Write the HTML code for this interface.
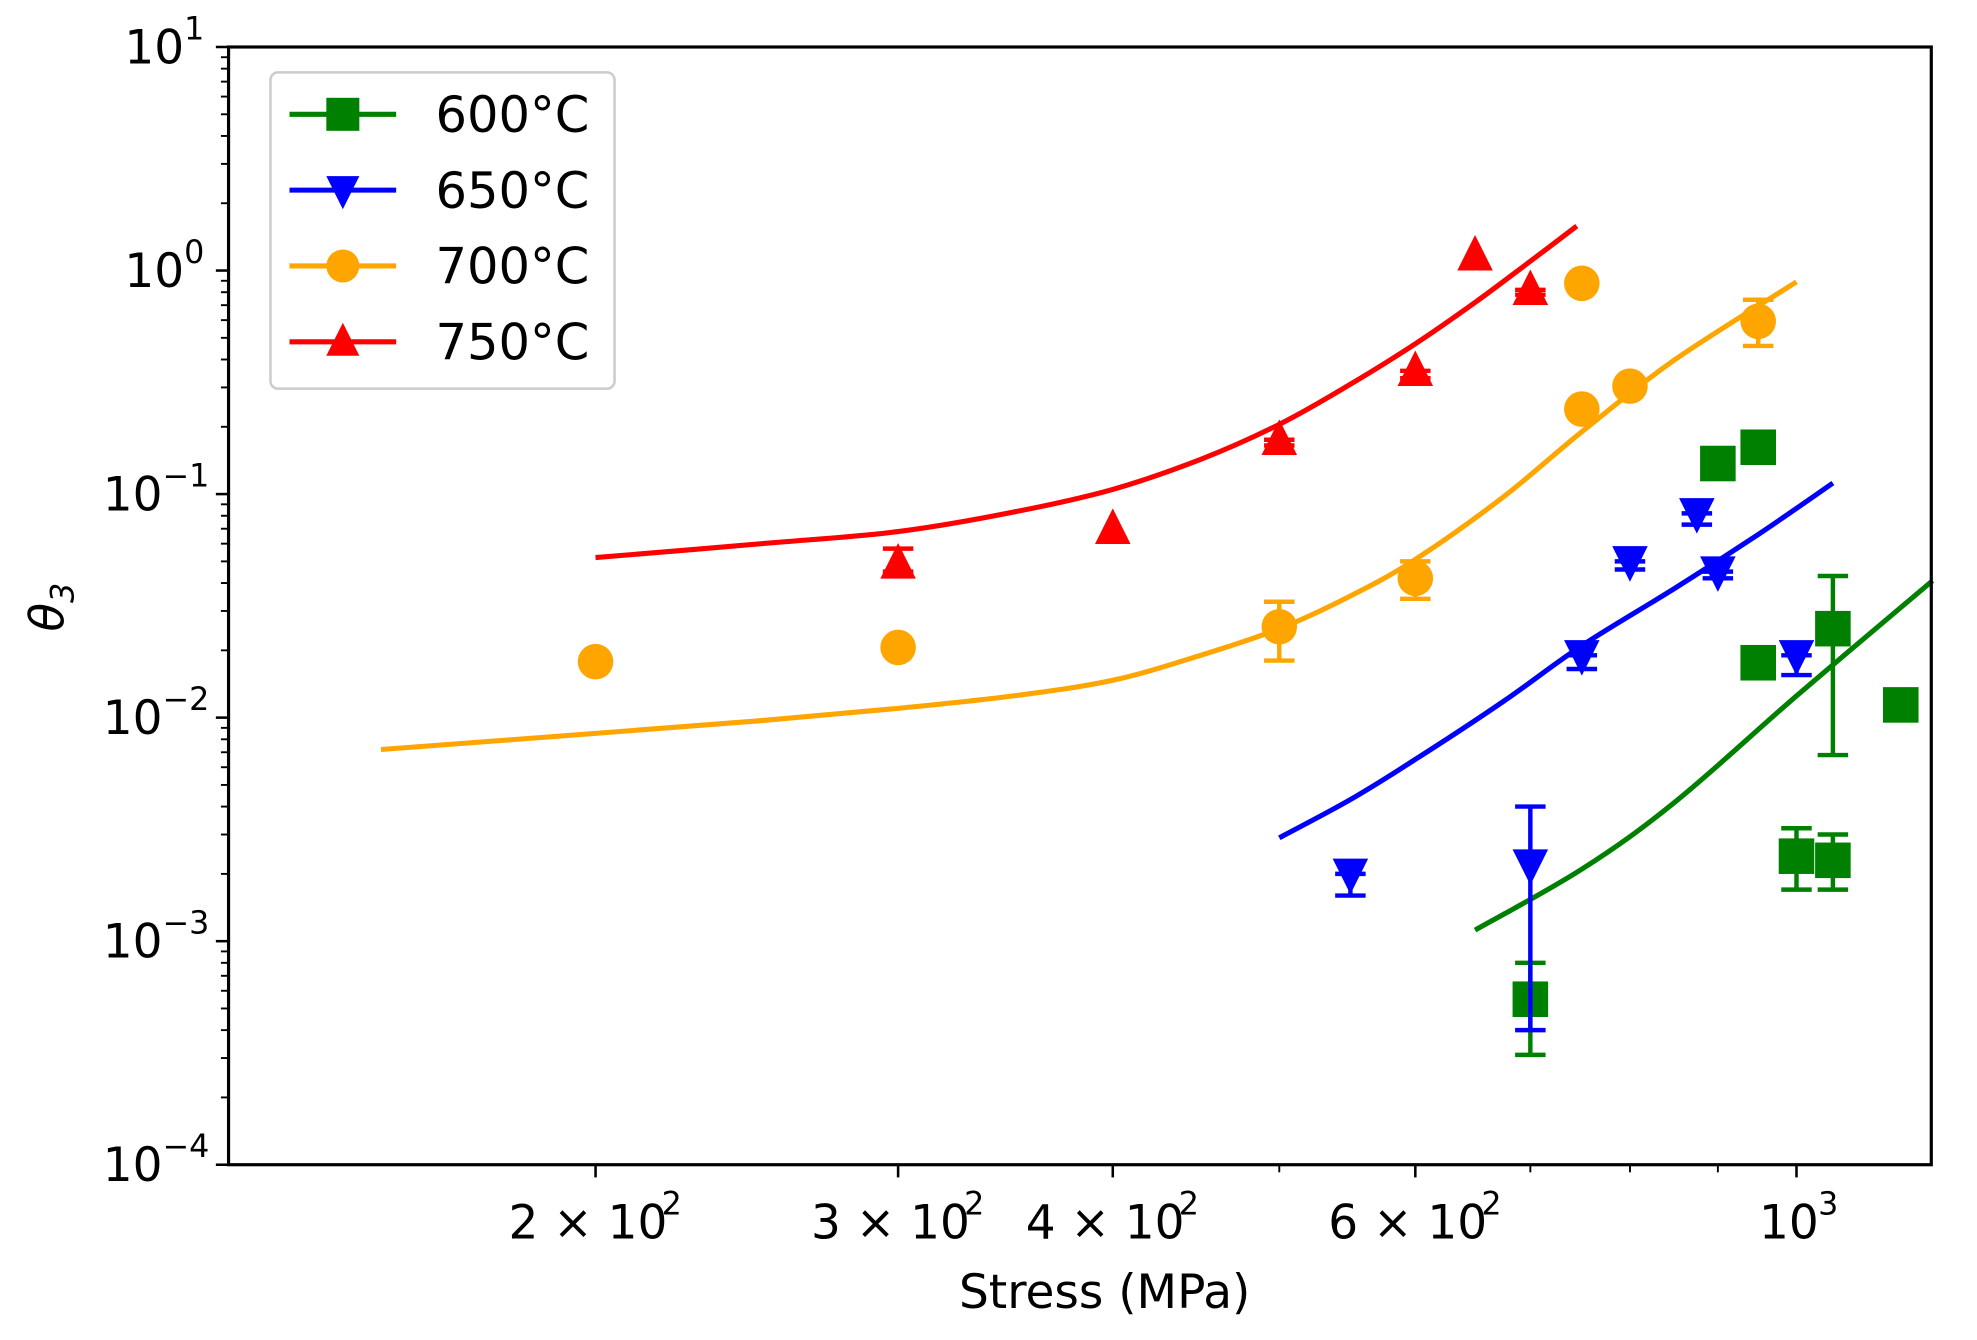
<!DOCTYPE html>
<html><head><meta charset="utf-8"><style>
html,body{margin:0;padding:0;background:#fff;}
svg{display:block;}
text{font-family:"DejaVu Sans","Liberation Sans",sans-serif;fill:#000;}
</style></head>
<body>
<svg id="chart" width="1977" height="1340" viewBox="0 0 1557 1055" preserveAspectRatio="none" xmlns="http://www.w3.org/2000/svg">
<rect x="0" y="0" width="1557" height="1055" fill="#fff"/>
<g id="plot"></g>
<g id="axes"></g>
<text x="870" y="1030" font-size="37" text-anchor="middle">Stress (MPa)</text>
<text x="0" y="0" font-size="37" font-style="italic" text-anchor="middle" transform="translate(50,478) rotate(-90)">θ<tspan font-size="25" dy="8">3</tspan></text>
<g>
<rect x="213" y="57" width="271" height="249" rx="6" fill="#fff" stroke="#ccc" stroke-width="2"/>
<g id="legend-items"></g>
</g>
</svg>
<script>
// ---- data ----
const series = ["600°C","650°C","700°C","750°C"];
const colors = ["#008000","#0000ff","#ffa500","#ff0000"];
const markers = ["square","tri-down","circle","tri-up"];
const x600 = [700,900,950,950,1000,1050,1050,1150];
const y600 = [0.00055,0.137,0.162,0.0176,0.0024,0.0023,0.025,0.0114];
const lo600 = [0.00031,0.137,0.162,0.0165,0.0017,0.0017,0.0068,0.0108];
const hi600 = [0.0008,0.137,0.162,0.019,0.0032,0.003,0.043,0.012];
const x650 = [550,700,750,800,875,900,1000];
const y650 = [0.002,0.0022,0.019,0.05,0.082,0.045,0.019];
const lo650 = [0.0016,0.0004,0.0165,0.046,0.073,0.042,0.0155];
const hi650 = [0.002,0.004,0.019,0.05,0.082,0.045,0.019];
const x700 = [200,300,500,600,750,750,800,950];
const y700 = [0.0178,0.0206,0.0255,0.042,0.24,0.877,0.304,0.593];
const lo700 = [0.0178,0.0195,0.018,0.034,0.24,0.877,0.304,0.46];
const hi700 = [0.0178,0.022,0.033,0.05,0.24,0.877,0.304,0.74];
const x750 = [300,400,500,600,650,700];
const y750 = [0.049,0.070,0.175,0.356,1.17,0.82];
const lo750 = [0.045,0.070,0.165,0.33,1.17,0.78];
const hi750 = [0.057,0.070,0.175,0.356,1.17,0.82];
const fx600 = [650,750,850,1000,1200];
const fy600 = [0.00112,0.0021,0.0042,0.0125,0.041];
const fx650 = [500,550,600,675,750,850,950,1050];
const fy650 = [0.0029,0.0043,0.0065,0.0118,0.021,0.038,0.066,0.112];
const fx700 = [150,200,250,300,350,400,450,500,550,600,675,750,850,1000];
const fy700 = [0.0072,0.0085,0.0097,0.011,0.0125,0.0147,0.019,0.025,0.035,0.051,0.097,0.19,0.4,0.89];
const fx750 = [200,250,300,350,400,450,500,550,600,650,700,745];
const fy750 = [0.052,0.06,0.068,0.083,0.105,0.143,0.205,0.31,0.47,0.72,1.1,1.58];
const xTickVals = [200,300,400,600,1000];
const xTickLabels = [["2 × 10","2"],["3 × 10","2"],["4 × 10","2"],["6 × 10","2"],["10","3"]];
const xMinorVals = [500,700,800,900];
const yTickExps = [1,0,-1,-2,-3,-4];

// ---- scales ----
const L=180,R=1521,T=37,B=917;
const xmin=Math.log10(122.3), xmax=Math.log10(1198);
function X(v){return L+(Math.log10(v)-xmin)/(xmax-xmin)*(R-L);}
function Y(v){return T+(1-Math.log10(v))/5*(B-T);}
const NS="http://www.w3.org/2000/svg";
function mk(tag,attrs,parent){const e=document.createElementNS(NS,tag);for(const k in attrs)e.setAttribute(k,attrs[k]);parent.appendChild(e);return e;}
const plot=document.getElementById('plot'), axes=document.getElementById('axes');

function marker(kind,cx,cy,color,parent,s){
  s=s||14;let e;
  if(kind==="square") e=mk('rect',{x:cx-s,y:cy-s,width:2*s,height:2*s,fill:color},parent);
  else if(kind==="circle") e=mk('ellipse',{cx:cx,cy:cy,rx:s,ry:s,fill:color},parent);
  else if(kind==="tri-up") e=mk('polygon',{points:`${cx},${cy-s-2} ${cx+s},${cy+s-2} ${cx-s},${cy+s-2}`,fill:color},parent);
  else e=mk('polygon',{points:`${cx-s},${cy-s+2} ${cx+s},${cy-s+2} ${cx},${cy+s+2}`,fill:color},parent);
  return e;
}
function smooth(P){
  let d="M"+P[0][0].toFixed(1)+","+P[0][1].toFixed(1);
  for(let i=0;i<P.length-1;i++){
    const p0=P[Math.max(0,i-1)],p1=P[i],p2=P[i+1],p3=P[Math.min(P.length-1,i+2)];
    const c1=[p1[0]+(p2[0]-p0[0])/6,p1[1]+(p2[1]-p0[1])/6];
    const c2=[p2[0]-(p3[0]-p1[0])/6,p2[1]-(p3[1]-p1[1])/6];
    d+=`C${c1[0].toFixed(1)},${c1[1].toFixed(1)} ${c2[0].toFixed(1)},${c2[1].toFixed(1)} ${p2[0].toFixed(1)},${p2[1].toFixed(1)}`;
  }
  return d;
}

const fits=[[fx600,fy600],[fx650,fy650],[fx700,fy700],[fx750,fy750]];
const pts=[[x600,y600,lo600,hi600],[x650,y650,lo650,hi650],[x700,y700,lo700,hi700],[x750,y750,lo750,hi750]];
fits.forEach((f,i)=>{
  const P=f[0].map((xv,j)=>[X(xv),Y(f[1][j])]);
  const p=mk('path',{d:smooth(P),fill:"none",stroke:colors[i],"stroke-width":4,"stroke-linejoin":"round"},plot);
  
  
});
pts.forEach((s,i)=>{
  const g=mk('g',{},plot);
  
  
  s[0].forEach((xv,j)=>{
    const cx=X(xv), cy=Y(s[1][j]), yl=Y(s[2][j]), yh=Y(s[3][j]);
    if(Math.abs(yl-yh)>1){
      mk('line',{x1:cx,y1:yl,x2:cx,y2:yh,stroke:colors[i],"stroke-width":3.5},g);
      mk('line',{x1:cx-12,y1:yl,x2:cx+12,y2:yl,stroke:colors[i],"stroke-width":3.5},g);
      mk('line',{x1:cx-12,y1:yh,x2:cx+12,y2:yh,stroke:colors[i],"stroke-width":3.5},g);
    }
    const m=marker(markers[i],cx,cy,colors[i],g);
    
    
  });
});

const fr=mk('rect',{x:L,y:T,width:R-L,height:B-T,fill:"none",stroke:"#000","stroke-width":2.5},axes);


yTickExps.forEach(e=>{
  const y=Y(Math.pow(10,e));
  mk('line',{x1:L-10,y1:y,x2:L,y2:y,stroke:"#000","stroke-width":2},axes);
  const off=(e<0?32:15);
  const t=mk('text',{x:L-20-off,y:y+13,"font-size":37,"text-anchor":"end"},axes);
  
  
  t.textContent="10";
  const sup=mk('text',{x:L-20-off,y:y-6,"font-size":25},axes);
  sup.textContent=(e<0?"−":"")+Math.abs(e);
  if(e>-4){for(let k=2;k<=9;k++){const ym=Y(k*Math.pow(10,e-1));
    mk('line',{x1:L-6,y1:ym,x2:L,y2:ym,stroke:"#000","stroke-width":1.5},axes);}}
});
xTickVals.forEach((v,i)=>{
  const x=X(v);
  mk('line',{x1:x,y1:B,x2:x,y2:B+10,stroke:"#000","stroke-width":2},axes);
  const t=mk('text',{x:x-6,y:B+58,"font-size":37,"text-anchor":"middle"},axes);
  
  
  t.textContent=xTickLabels[i][0];
  const w=xTickLabels[i][0].length>2?52:17;
  const sup=mk('text',{x:x+w,y:B+39,"font-size":25},axes);
  sup.textContent=xTickLabels[i][1];
});
xMinorVals.forEach(v=>{const x=X(v);mk('line',{x1:x,y1:B,x2:x,y2:B+6,stroke:"#000","stroke-width":1.5},axes);});

const li=document.getElementById('legend-items');
series.forEach((s,i)=>{
  const y=90+i*59.7;
  const g=mk('g',{},li);
  
  
  mk('line',{x1:228,y1:y,x2:312,y2:y,stroke:colors[i],"stroke-width":4},g);
  marker(markers[i],270,y,colors[i],g,13);
  const t=mk('text',{x:343,y:y+14,"font-size":39},g);
  t.textContent=s;
});
</script>
</body></html>
